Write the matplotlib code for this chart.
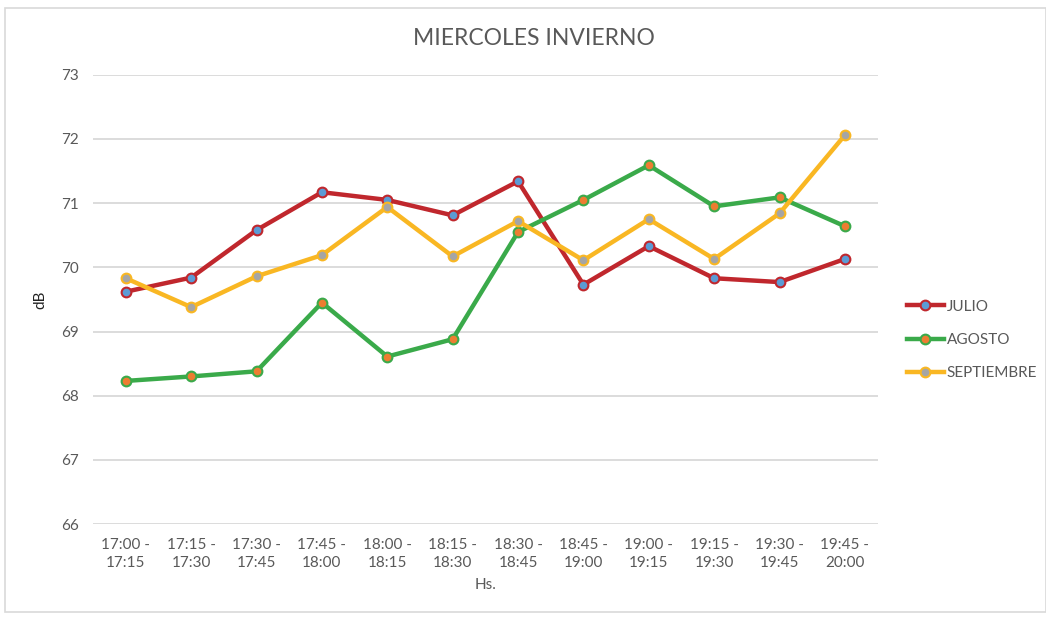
import matplotlib
matplotlib.use("Agg")
import matplotlib.pyplot as plt
from matplotlib.patches import Rectangle

categories = ["17:00 -\n17:15", "17:15 -\n17:30", "17:30 -\n17:45", "17:45 -\n18:00",
              "18:00 -\n18:15", "18:15 -\n18:30", "18:30 -\n18:45", "18:45 -\n19:00",
              "19:00 -\n19:15", "19:15 -\n19:30", "19:30 -\n19:45", "19:45 -\n20:00"]
julio = [69.62, 69.84, 70.58, 71.17, 71.05, 70.81, 71.34, 69.73, 70.33, 69.83, 69.77, 70.13]
agosto = [68.23, 68.30, 68.38, 69.45, 68.61, 68.88, 70.55, 71.05, 71.59, 70.95, 71.09, 70.64]
septiembre = [69.83, 69.38, 69.86, 70.19, 70.94, 70.17, 70.72, 70.11, 70.75, 70.13, 70.84, 72.06]
yticks = [66, 67, 68, 69, 70, 71, 72, 73]

plt.rcParams['font.family'] = ['Lato', 'DejaVu Sans']
txt = '#595959'

fig = plt.figure(figsize=(10.46, 6.18), dpi=100)
ax = fig.add_axes([0.089, 0.152, 0.750, 0.727])

x = list(range(len(categories)))
series = [
    ("JULIO", julio, '#C0272D', '#5B9BD5'),
    ("AGOSTO", agosto, '#3AAA4A', '#ED7D31'),
    ("SEPTIEMBRE", septiembre, '#F9B723', '#A5A5A5'),
]
for name, vals, lc, fc in series:
    ax.plot(x, vals, color=lc, lw=3.2, marker='o', ms=7, mfc=fc, mec=lc, mew=1.5,
            label=name, solid_joinstyle='round')

ax.set_xlim(-0.5, len(categories) - 0.5)
ax.set_ylim(66, 73)
ax.set_yticks(yticks)
ax.set_xticks(x)
ax.set_xticklabels(categories, fontsize=11, color=txt, linespacing=1.35)
ax.set_yticklabels([str(t) for t in yticks], fontsize=11, color=txt)
ax.grid(axis='y', color='#D9D9D9', lw=1.3)
ax.set_axisbelow(True)
for s in ax.spines.values():
    s.set_visible(False)
ax.tick_params(length=0, pad=10)
ax.tick_params(axis='y', pad=10)
ax.set_ylabel("dB", fontsize=11, color='#222222', labelpad=10)
ax.set_xlabel("Hs.", fontsize=11, color=txt, labelpad=6)
fig.text(0.51, 0.937, "MIERCOLES INVIERNO", ha='center', va='center', fontsize=16.5, color=txt)

leg = ax.legend(loc='center left', bbox_to_anchor=(1.02, 0.41), frameon=False,
                fontsize=11, labelcolor=txt, handlelength=2.4, handletextpad=0.2,
                labelspacing=1.25)

fig.patches.append(Rectangle((0.005, 0.01), 0.995, 0.977, transform=fig.transFigure,
                             fill=False, edgecolor='#D9D9D9', lw=1.2))

fig.savefig("out.png", dpi=100)
